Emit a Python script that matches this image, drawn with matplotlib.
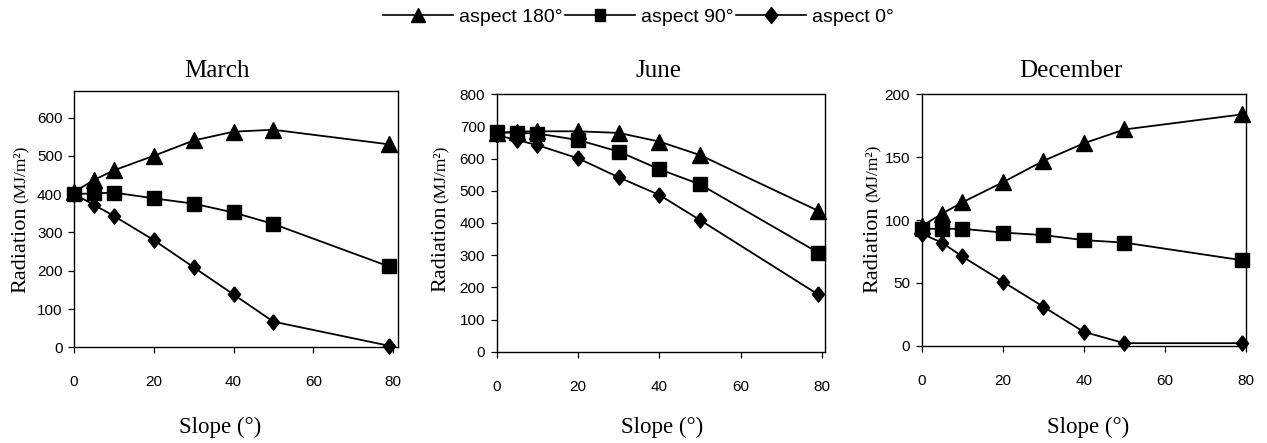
import matplotlib
matplotlib.use("Agg")
import matplotlib.pyplot as plt
from matplotlib.lines import Line2D

slope = [0, 5, 10, 20, 30, 40, 50, 79]
months = ["March", "June", "December"]

march_180 = [405, 437, 462, 500, 540, 563, 568, 530]
march_90 = [400, 402, 404, 389, 375, 352, 322, 211]
march_0 = [400, 372, 343, 280, 209, 138, 67, 4]

june_180 = [680, 684, 685, 685, 680, 653, 611, 438]
june_90 = [682, 680, 678, 658, 622, 567, 520, 308]
june_0 = [673, 658, 642, 601, 542, 487, 409, 178]

dec_180 = [95, 105, 114, 130, 147, 161, 172, 184]
dec_90 = [93, 93, 93, 90, 88, 84, 82, 68]
dec_0 = [89, 82, 71, 51, 31, 11, 2, 2]

series_labels = ["aspect 180°", "aspect 90°", "aspect 0°"]
month_data = [(march_180, march_90, march_0),
              (june_180, june_90, june_0),
              (dec_180, dec_90, dec_0)]
yticks = [[0, 100, 200, 300, 400, 500, 600],
          [0, 100, 200, 300, 400, 500, 600, 700, 800],
          [0, 50, 100, 150, 200]]
xticks = [0, 20, 40, 60, 80]

W, H = 1267, 443
fig = plt.figure(figsize=(W / 100, H / 100), dpi=100)

diamond = [(0, 1), (0.8, 0), (0, -1), (-0.8, 0), (0, 1)]
leg_square = [(-0.4, -0.5), (0.4, -0.5), (0.4, 0.5), (-0.4, 0.5), (-0.4, -0.5)]
markers = ["^", "s", diamond]
msizes = [11, 10.5, 11]

# axes boxes in pixels: left, right, top, bottom ; limits
boxes = [(74, 398, 90.7, 347.3, 81.25, 670),
         (496.7, 825, 94.3, 351.7, 80.7, 800),
         (921.7, 1246, 94.3, 345.7, 80, 200)]
title_x = [217, 658, 1071]
slope_x = [220, 662, 1088]
ylab_x = [25, 445, 877]
ylab_y = [293, 292, 293]
paren_y = [203, 203, 202]

sans = ["Liberation Sans", "DejaVu Sans"]
serif = ["Liberation Serif", "DejaVu Serif"]

for i in range(3):
    l, r, t, b, xmax, ymax = boxes[i]
    ax = fig.add_axes([l / W, (H - b) / H, (r - l) / W, (b - t) / H])
    for j, vals in enumerate(month_data[i]):
        ax.plot(slope, vals, color="black", lw=1.3, marker=markers[j],
                markersize=msizes[j], markerfacecolor="black",
                markeredgecolor="black", clip_on=False, zorder=3)
    ax.set_xlim(0, xmax)
    ax.set_ylim(0, ymax)
    ax.set_xticks(xticks)
    ax.set_yticks(yticks[i])
    ax.tick_params(axis="both", direction="out", length=4.3, width=0.9,
                   labelsize=11)
    ax.tick_params(axis="x", pad=16)
    ax.tick_params(axis="y", pad=4)
    for lab in ax.get_xticklabels() + ax.get_yticklabels():
        lab.set_family(sans)
    for s in ax.spines.values():
        s.set_linewidth(1.0)
    fig.text(title_x[i] / W, (H - 77) / H, months[i], ha="center",
             va="baseline", fontsize=18, family=serif)
    fig.text(slope_x[i] / W, (H - 433) / H, "Slope (°)", ha="center",
             va="baseline", fontsize=16.5, family=serif)
    fig.text(ylab_x[i] / W, (H - ylab_y[i]) / H, "Radiation", rotation=90,
             rotation_mode="anchor", ha="left", va="baseline",
             fontsize=16, family=serif)
    fig.text(ylab_x[i] / W, (H - paren_y[i]) / H, "(MJ/m²)", rotation=90,
             rotation_mode="anchor", ha="left", va="baseline",
             fontsize=12.5, family=serif)

leg_markers = ["^", leg_square, diamond]
handles = [Line2D([], [], color="black", lw=1.2, marker=leg_markers[j],
                  markersize=[10, 9, 11.5][j], markerfacecolor="black")
           for j in range(3)]
fig.legend(handles, series_labels, loc="center",
           bbox_to_anchor=(638.5 / W, 1 - 17 / H), ncol=3, frameon=False,
           handlelength=3.6, handletextpad=0.3, columnspacing=0.15,
           prop={"family": sans, "size": 14}, borderpad=0)

fig.savefig("out.png", dpi=100)
